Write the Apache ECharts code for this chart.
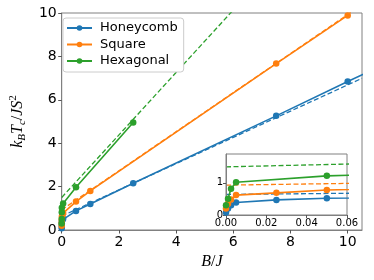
<!DOCTYPE html>
<html><head><meta charset="utf-8">
<script src="https://cdn.jsdelivr.net/npm/echarts@6/dist/echarts.min.js"></script>
<style>html,body{margin:0;padding:0;background:#fff}#c{width:374px;height:280px}</style>
</head><body><div id="c"></div>
<script>
// ---- data ----
const honeyX = [0, 0.001, 0.0025, 0.005, 0.025, 0.05, 0.5, 1, 2.5, 7.5, 10, 12.5];
const honeyY = [0.08, 0.2, 0.3, 0.39, 0.47, 0.52, 0.88, 1.2, 2.15, 5.26, 6.84, 8.4];
const squareX = [0, 0.001, 0.0025, 0.005, 0.025, 0.05, 0.5, 1, 7.5, 10];
const squareY = [0.2, 0.35, 0.48, 0.62, 0.69, 0.78, 1.31, 1.8, 7.67, 9.89];
const hexX = [0, 0.001, 0.0025, 0.005, 0.05, 0.5, 2.5];
const hexY = [0.3, 0.51, 0.82, 1.02, 1.22, 1.97, 4.95];
// dashed asymptotes (end points)
const honeyDashX = [0, 10.5];
const honeyDashY = [0.64, 6.99];
const squareDashX = [0, 10.5];
const squareDashY = [0.93, 10.38];
const hexDashX = [0, 10.5];
const hexDashY = [1.5, 16.62];
const mainXTicks = [0, 2, 4, 6, 8, 10];
const mainYTicks = [0, 2, 4, 6, 8, 10];
const insetXTicks = [0, 0.02, 0.04, 0.06];
const insetYTicks = [0, 1];
const names = ['Honeycomb', 'Square', 'Hexagonal'];
const colors = ['#1f77b4', '#ff7f0e', '#2ca02c'];

const zip = (a, b) => a.map((v, i) => [v, b[i]]);
const solid = [[honeyX, honeyY], [squareX, squareY], [hexX, hexY]];
const dashed = [[honeyDashX, honeyDashY], [squareDashX, squareDashY], [hexDashX, hexDashY]];

const frame = '#808080';
const tickCol = '#555';
const series = [];
[0, 1].forEach(g => {
  solid.forEach((s, i) => {
    series.push({
      type: 'line', name: g === 0 ? names[i] : names[i] + '_inset',
      xAxisIndex: g, yAxisIndex: g, data: zip(s[0], s[1]),
      symbol: 'circle', symbolSize: g === 0 ? 6.5 : 6.5, showSymbol: true,
      lineStyle: {width: 1.6, color: colors[i]}, itemStyle: {color: colors[i]},
      z: g === 0 ? 3 : 12, clip: true, animation: false
    });
    series.push({
      type: 'line', name: names[i] + '_dash' + g,
      xAxisIndex: g, yAxisIndex: g, data: zip(dashed[i][0], dashed[i][1]),
      symbol: 'none', lineStyle: {width: 1.3, color: colors[i], type: [5, 2.5]},
      z: g === 0 ? 2 : 11, clip: true, animation: false
    });
  });
});

const serif = "'Liberation Serif', 'DejaVu Serif', serif";
const chart = echarts.init(document.getElementById('c'), null, {renderer: 'canvas'});
chart.setOption({
  animation: false,
  grid: [
    {left: 57, right: 12, top: 13, bottom: 50, show: true, borderColor: frame, borderWidth: 1, backgroundColor: '#fff', z: 0},
    {left: 226, right: 27, top: 154, bottom: 65, show: true, borderColor: frame, borderWidth: 1, backgroundColor: '#fff', z: 10}
  ],
  legend: {
    data: names, left: 63, top: 18, orient: 'vertical',
    itemWidth: 25, itemHeight: 7, itemGap: 2.5,
    padding: [3, 6, 4, 3],
    borderColor: '#cccccc', borderWidth: 1, borderRadius: 3, backgroundColor: '#fff',
    textStyle: {fontFamily: 'DejaVu Sans', fontSize: 13, color: '#000', lineHeight: 14, padding: [0, 0, 0, 3]},
    z: 20
  },
  xAxis: [
    {type: 'value', gridIndex: 0, min: 0, max: 10.5, splitLine: {show: false},
     axisLine: {show: true, onZero: false, lineStyle: {color: frame}},
     axisTick: {show: true, length: 3.5, customValues: mainXTicks, lineStyle: {color: tickCol}},
     axisLabel: {customValues: mainXTicks, fontFamily: 'DejaVu Sans', fontSize: 14, color: '#000', margin: 5},
     name: '{i|B}{r|/}{i|J}', nameLocation: 'middle', nameGap: 24,
     nameTextStyle: {rich: {
       i: {fontFamily: serif, fontStyle: 'italic', fontSize: 16, color: '#000'},
       r: {fontFamily: serif, fontSize: 16, color: '#000'}}}},
    {type: 'value', gridIndex: 1, min: 0, max: 0.06, splitLine: {show: false}, z: 12,
     axisLine: {show: true, onZero: false, lineStyle: {color: frame}},
     axisTick: {show: true, length: 3, customValues: insetXTicks, lineStyle: {color: tickCol}},
     axisLabel: {customValues: insetXTicks, formatter: v => v.toFixed(2), fontFamily: 'DejaVu Sans', fontSize: 10, color: '#000', margin: 3}}
  ],
  yAxis: [
    {type: 'value', gridIndex: 0, min: 0, max: 10, splitLine: {show: false},
     axisLine: {show: true, onZero: false, lineStyle: {color: frame}},
     axisTick: {show: true, length: 3.5, customValues: mainYTicks, lineStyle: {color: tickCol}},
     axisLabel: {customValues: mainYTicks, fontFamily: 'DejaVu Sans', fontSize: 14, color: '#000', margin: 5},
     name: '{i|k}{s|B}{i|T}{s|c}{r|/}{i|JS}{p|2}', nameLocation: 'middle', nameGap: 28, nameRotate: 90,
     nameTextStyle: {rich: {
       i: {fontFamily: serif, fontStyle: 'italic', fontSize: 16, lineHeight: 20, color: '#000', verticalAlign: 'middle'},
       r: {fontFamily: serif, fontSize: 16, lineHeight: 20, color: '#000', verticalAlign: 'middle'},
       s: {fontFamily: serif, fontStyle: 'italic', fontSize: 11, lineHeight: 11, color: '#000', verticalAlign: 'bottom'},
       p: {fontFamily: serif, fontSize: 11, lineHeight: 11, color: '#000', verticalAlign: 'top'}}}},
    {type: 'value', gridIndex: 1, min: 0, max: 1.9, splitLine: {show: false}, z: 12,
     axisLine: {show: true, onZero: false, lineStyle: {color: frame}},
     axisTick: {show: true, length: 3, customValues: insetYTicks, lineStyle: {color: tickCol}},
     axisLabel: {customValues: insetYTicks, fontFamily: 'DejaVu Sans', fontSize: 10, color: '#000', margin: 3}}
  ],
  series: series
});
</script></body></html>
